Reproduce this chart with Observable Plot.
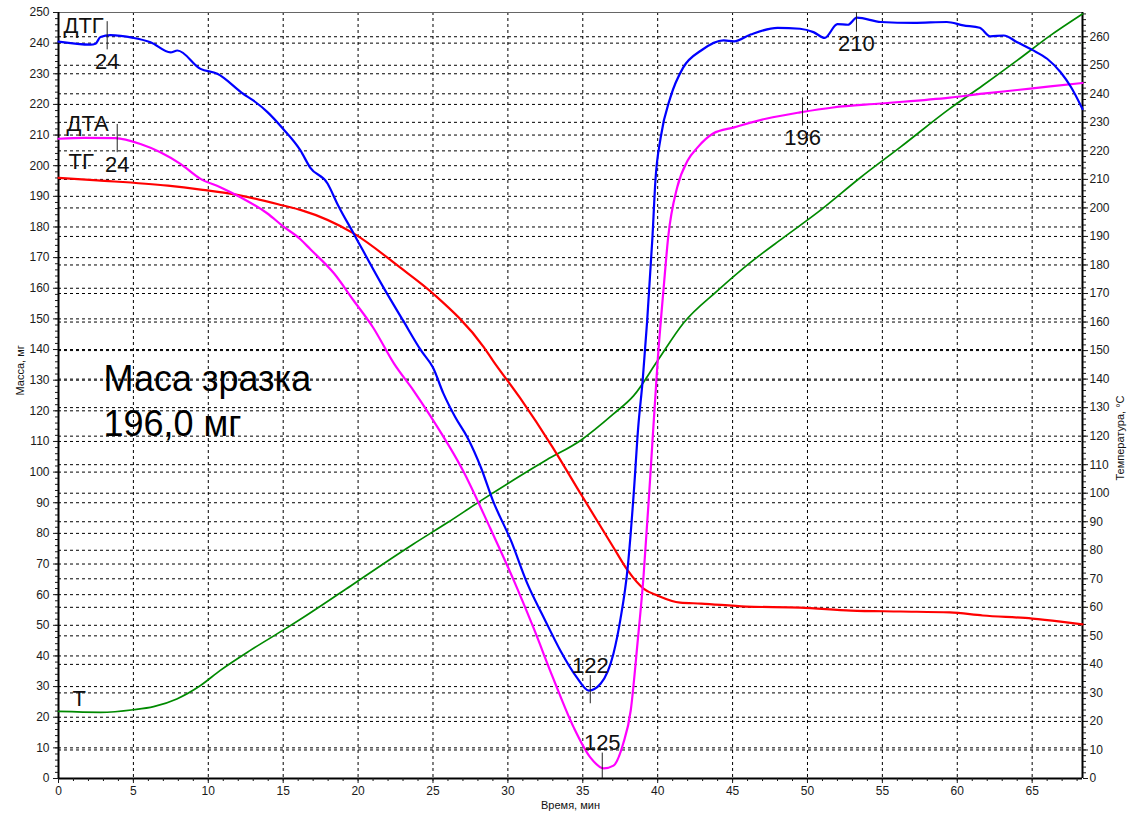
<!DOCTYPE html>
<html><head><meta charset="utf-8">
<script src="https://cdn.jsdelivr.net/npm/d3@7"></script>
<script src="https://cdn.jsdelivr.net/npm/@observablehq/plot@0.6"></script>
<style>body{margin:0;background:#fff} #chart svg{display:block}</style>
</head><body><div id="chart"></div>
<script>
// ---- data (time in minutes) ----
const tgTime = [0, 2.6, 7.3, 9.5, 12.1, 15.0, 16.2, 19.7, 22.8, 25.0, 28.4, 29.0, 30.8, 33.0, 34.85, 37.05, 38.0, 39.05, 40.0, 41.5, 42.9, 45.9, 49.5, 52.9, 56.2, 59.5, 61.7, 65.0, 66.9, 68.36];
const tgMass = [196, 195.2, 193.5, 192.2, 190.3, 187, 185.5, 177.9, 166.8, 158.3, 140.7, 136.4, 124.3, 108, 93, 75.4, 67.9, 62, 59.7, 57.4, 57.1, 56.1, 55.8, 54.8, 54.5, 54.2, 53.2, 52.2, 51.2, 50.3];

const dtgTime = [0, 2.14, 2.47, 2.8, 3.47, 5.0, 6.14, 7.48, 7.94, 9.48, 10.6, 12.35, 13.0, 13.95, 15.0, 16.15, 16.8, 17.96, 18.6, 19.7, 21.7, 23.0, 24.2, 25.0, 25.7, 26.5, 27.3, 28.2, 29.0, 30.2, 31.3, 32.4, 33.5, 34.6, 35.4, 36.2, 37.05, 37.5, 38.0, 38.4, 38.7, 39.0, 39.3, 39.65, 39.85, 40.2, 40.85, 41.7, 42.9, 44.4, 45.1, 46.2, 48.0, 49.5, 50.4, 51.15, 52.0, 52.7, 53.3, 54.9, 57.1, 59.3, 60.4, 61.5, 62.2, 63.1, 64.0, 65.0, 66.0, 66.9, 67.6, 68.36];
const dtgValue = [240.5, 239.5, 239.8, 242, 242.6, 241.7, 240.3, 237, 237.6, 231.6, 230, 223.4, 221.3, 217.5, 212, 205, 199.4, 194.2, 187.7, 177.9, 160.2, 149.5, 139.7, 134.1, 125.6, 117.8, 111.3, 101.5, 90.7, 77.7, 63.6, 52.5, 41.8, 33, 28.7, 31, 40.8, 51.6, 68.9, 93, 114.6, 130, 149.5, 176.6, 195.2, 209.2, 222.3, 232, 237.6, 240.9, 240.6, 242.8, 245, 244.7, 243.6, 241.7, 246.2, 246, 248.3, 246.9, 246.6, 246.9, 245.8, 245, 242.2, 242.5, 240.3, 237.8, 234.9, 230.5, 225.6, 218.5];

const dtaTime = [0, 1.7, 3.8, 5.47, 6.8, 8.14, 9.48, 10.8, 12.15, 13.95, 15.0, 16.15, 16.8, 18.4, 19.7, 21.0, 22.4, 23.7, 24.8, 27.0, 28.8, 30.4, 31.7, 33.0, 34.4, 35.5, 36.4, 37.05, 37.7, 38.2, 38.65, 39.05, 39.5, 40.0, 40.4, 40.7, 41.3, 42.0, 42.65, 43.7, 45.1, 47.3, 49.5, 51.7, 54.9, 59.5, 61.7, 64.0, 66.2, 68.36];
const dtaValue = [208.8, 209.1, 209, 207.1, 204.4, 200.6, 195.7, 193, 189.7, 184.4, 180.2, 176, 172.8, 164.8, 156, 147.2, 135.4, 126.6, 118.5, 100.5, 81.9, 64.6, 49.3, 33, 16.6, 6.9, 3.3, 4.2, 11.4, 22.2, 44, 65.6, 98.2, 136.4, 160.2, 176.6, 192.9, 201.7, 205.9, 210.5, 212.5, 215.4, 217.4, 219, 220.3, 222.2, 223.5, 224.7, 225.9, 227];

const tempTime = [0, 2.8, 5.0, 6.35, 7.9, 9.48, 10.8, 12.8, 15.0, 16.15, 19.5, 21.5, 23.7, 26.0, 28.2, 30.4, 32.6, 34.85, 37.05, 38.4, 40.0, 41.7, 44.0, 46.2, 48.4, 50.7, 53.5, 56.2, 59.5, 61.7, 64.0, 66.2, 68.36];
const tempValue = [23.5, 23.2, 24.1, 25.2, 27.9, 32.6, 37.9, 44.9, 52.0, 55.8, 67.5, 74.6, 82.2, 89.8, 97.4, 104.7, 111.7, 118.5, 127.8, 134.2, 146.5, 159.5, 171, 180.9, 189.6, 198.5, 210.5, 221.3, 234.8, 242.9, 251.7, 260.4, 268];

// peak markers (labels are temperatures, °C)
const markerSeries = ["ДТГ", "ДТА", "ДТГ", "ДТА", "ДТА", "ДТГ"];
const markerTime = [3.25, 3.92, 35.5, 36.3, 49.67, 53.27];
const markerLabel = ["24", "24", "122", "125", "196", "210"];

// axes
const timeMax = 68.36, massMax = 250, tempMax = 268.5;
const massTicks = d3.range(0, 251, 10);
const tempTicks = d3.range(0, 261, 10);
const timeTicks = d3.range(0, 66, 5);

// ---- build ----
const k = massMax / tempMax; // temperature -> left-axis units
const zip = (ts, vs, f = 1) => ts.map((t, i) => ({t, v: vs[i] * f}));
const tg = zip(tgTime, tgMass);
const dtg = zip(dtgTime, dtgValue);
const dta = zip(dtaTime, dtaValue);
const temp = zip(tempTime, tempValue, k);
const seriesByName = {"ДТГ": dtg, "ДТА": dta, "ТГ": tg};
function valueAt(s, t) {
  for (let i = 1; i < s.length; i++) {
    if (t <= s[i].t) { const a = s[i-1], b = s[i]; return a.v + (b.v - a.v) * (t - a.t) / (b.t - a.t); }
  }
  return s[s.length-1].v;
}
const markers = markerTime.map((t, i) => {
  const v = valueAt(seriesByName[markerSeries[i]], t);
  return {t, v, label: markerLabel[i], lo: Math.max(0, v - 4.6), hi: Math.min(massMax, v + 4.6)};
});
const font = "'Liberation Sans', Arial, sans-serif";
const grid = {stroke: "#000", strokeWidth: 1, strokeDasharray: "3,3"};

const marks = [
  Plot.ruleY(massTicks.filter(d => d > 0 && d < massMax), grid),
  Plot.ruleY(tempTicks.filter(d => d > 0), {...grid, y: d => d * k}),
  Plot.ruleX(timeTicks.filter(d => d > 0), grid),
  Plot.ruleY([massMax], {stroke: "#666", strokeWidth: 1}),
  Plot.ruleX([0], {stroke: "#000", strokeWidth: 2}),
  Plot.ruleX([timeMax], {stroke: "#000", strokeWidth: 2}),
  Plot.ruleY([0], {stroke: "#000", strokeWidth: 2}),
  // axes
  Plot.axisY({ticks: massTicks, anchor: "left", tickSize: 5, tickPadding: 4, fontSize: 12, label: null}),
  Plot.axisY({ticks: d3.range(0, 251, 2), anchor: "left", tickSize: 3, tickFormat: () => "", label: null}),
  Plot.axisY({ticks: tempTicks.map(d => d * k), anchor: "right", tickSize: 5, tickPadding: 2, fontSize: 12, tickFormat: v => String(Math.round(v / k)), label: null}),
  Plot.axisY({ticks: d3.range(0, 269, 2).map(d => d * k), anchor: "right", tickSize: 3, tickFormat: () => "", label: null}),
  Plot.axisX({ticks: timeTicks, anchor: "bottom", tickSize: 5, tickPadding: 3, fontSize: 12, label: null}),
  Plot.axisX({ticks: d3.range(0, 69, 1), anchor: "bottom", tickSize: 3, tickFormat: () => "", label: null}),
  // curves
  Plot.line(temp, {x: "t", y: "v", stroke: "#008a00", strokeWidth: 1.7, curve: "monotone-x"}),
  Plot.line(tg, {x: "t", y: "v", stroke: "#ff0000", strokeWidth: 2.2, curve: "monotone-x"}),
  Plot.line(dta, {x: "t", y: "v", stroke: "#ff00ff", strokeWidth: 2.2, curve: "monotone-x"}),
  Plot.line(dtg, {x: "t", y: "v", stroke: "#0000ff", strokeWidth: 2.2, curve: "monotone-x"}),
  // markers
  Plot.ruleX(markers, {x: "t", y1: "lo", y2: "hi", stroke: "#222", strokeWidth: 1}),
  Plot.text(markers.filter(d => d.v >= 100), {x: "t", y: "v", text: "label", dy: 26, fontSize: 22, fill: "#111"}),
  Plot.text(markers.filter(d => d.v < 100), {x: "t", y: "v", text: "label", dy: -24, fontSize: 22, fill: "#111"}),
  // series names
  Plot.text([dtg[0]], {x: "t", y: "v", text: () => "ДТГ", textAnchor: "start", dx: 5, dy: -16, fontSize: 22, fill: "#111"}),
  Plot.text([dta[0]], {x: "t", y: "v", text: () => "ДТА", textAnchor: "start", dx: 8, dy: -15, fontSize: 22, fill: "#111"}),
  Plot.text([tg[0]], {x: "t", y: "v", text: () => "ТГ", textAnchor: "start", dx: 10, dy: -16, fontSize: 22, fill: "#111"}),
  Plot.text([temp[0]], {x: "t", y: "v", text: () => "T", textAnchor: "start", dx: 14, dy: -13, fontSize: 22, fill: "#111"}),
  // sample mass note
  Plot.text([`Маса зразка\n${tgMass[0].toFixed(1).replace(".", ",")} мг`], {frameAnchor: "top-left", textAnchor: "start", lineAnchor: "top", dx: 45, dy: 347, fontSize: 36, lineHeight: 1.25, fill: "#000"}),
  // axis titles
  Plot.text(["Масса, мг"], {frameAnchor: "left", rotate: -90, dx: -38, fontSize: 11, fill: "#111"}),
  Plot.text(["Температура, °C"], {frameAnchor: "right", rotate: -90, dx: 38, fontSize: 11, fill: "#111"}),
  Plot.text(["Время, мин"], {frameAnchor: "bottom", dy: 30, fontSize: 11, fill: "#111"})
];

const chart = Plot.plot({
  width: 1138, height: 817,
  marginLeft: 58, marginRight: 56, marginTop: 12, marginBottom: 39,
  x: {domain: [0, timeMax]},
  y: {domain: [0, massMax]},
  style: {fontFamily: font, fontSize: "12px", color: "#1a1a1a", background: "#fff", overflow: "visible"},
  marks
});
document.getElementById("chart").append(chart);
</script>
</body></html>
